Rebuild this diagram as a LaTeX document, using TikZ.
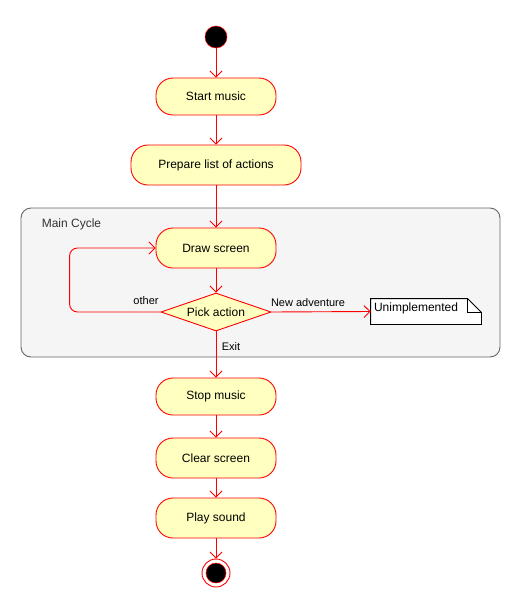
\documentclass[tikz,border=0pt]{standalone}
\usepackage{fontspec}
\setmainfont{Liberation Sans}
\usetikzlibrary{arrows.meta,shapes.geometric}
\definecolor{actfill}{HTML}{FFFFC0}
\definecolor{actline}{HTML}{FF0000}
\definecolor{txt}{HTML}{333333}
\tikzstyle{action}=[rectangle,rounded corners=17pt,draw=actline,fill=actfill,minimum width=120pt,minimum height=40pt,inner sep=0pt,font=\fontsize{12}{14}\selectfont,text=black]
\tikzstyle{choice}=[diamond,draw=actline,fill=actfill,minimum width=110pt,minimum height=38pt,aspect=2.9,inner sep=0pt,font=\fontsize{12}{14}\selectfont]
\tikzstyle{edge}=[draw=actline,-{Straight Barb[length=6pt,width=12pt]}]
\tikzstyle{guard}=[font=\fontsize{11}{13}\selectfont,text=black]

\begin{document}
\begin{tikzpicture}[x=1pt,y=-1pt,line width=0.9pt]
    \useasboundingbox (0,0) rectangle (521,608);
    % the main cycle frame
    \node[draw=black!60,fill=black!4,rounded corners=10pt,minimum width=479pt,minimum height=149pt] (cycle) at (260.5,282.5) {};
    \node[anchor=west,text=txt,font=\fontsize{12}{14}\selectfont] (cyclename) at (38,224) {Main Cycle};
    % start and end
    \node[circle,fill=black,draw=actline,line width=0.5pt,minimum size=22pt,inner sep=0pt] (start) at (216,37) {};
    \node[circle,fill=white,draw=actline,minimum size=28pt,inner sep=0pt] (finish) at (216,573) {};
    \node[circle,fill=black,draw=actline,line width=0.5pt,minimum size=20pt,inner sep=0pt] (finishdot) at (216,573) {};
    % the actions
    \node[action,minimum height=37pt] (startmusic) at (216,96.5) {Start music};
    \node[action,minimum width=170pt] (prepare) at (216,165) {Prepare list of actions};
    \node[action] (drawscreen) at (216,248) {Draw screen};
    \node[choice] (pick) at (216,312) {Pick action};
    \node[action,minimum height=37pt] (stopmusic) at (216,396.5) {Stop music};
    \node[action] (clearscreen) at (216,458) {Clear screen};
    \node[action] (playsound) at (216,518) {Play sound};
    % the note
    \node[minimum width=110pt,minimum height=25pt,inner sep=0pt] (note) at (426,311.5) {};
    \draw[fill=white] (note.north west) -- ([xshift=-14pt]note.north east) -- ([yshift=-14pt]note.north east) -- (note.south east) -- (note.south west) -- cycle;
    \draw ([xshift=-14pt]note.north east) |- ([yshift=-14pt]note.north east);
    \node[anchor=north west,inner sep=0pt,font=\fontsize{12}{14}\selectfont] (notetext) at ([xshift=3pt,yshift=-4pt]note.north west) {Unimplemented};
    % connect the flow
    \foreach \source/\dest in {start/startmusic,startmusic/prepare,prepare/drawscreen,drawscreen/pick,
                               pick/stopmusic,stopmusic/clearscreen,clearscreen/playsound,playsound/finish}
        \path[edge] (\source) -- (\dest);
    \path[edge,rounded corners=8pt] (pick.west) -- ++(-91,0) |- (drawscreen.west);
    \path[edge] (pick.east) -- (note.west);
    % guards
    \node[guard] (lother) at (146,301) {other};
    \node[guard] (lnew) at (308,303) {New adventure};
    \node[guard] (lexit) at (231,347) {Exit};
\end{tikzpicture}
\end{document}
